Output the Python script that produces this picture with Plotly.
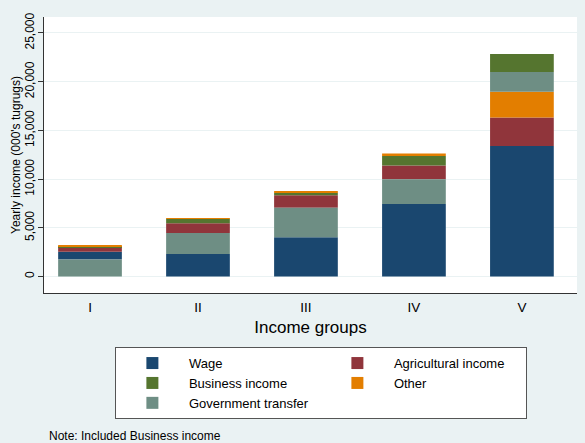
import plotly.graph_objects as go

groups = ["I", "II", "III", "IV", "V"]
series_names = ["Wage", "Agricultural income", "Business income", "Other", "Government transfer"]
wage = [790, 2315, 4030, 7440, 13410]
agricultural = [480, 1000, 1300, 1410, 2920]
business = [100, 445, 240, 990, 1850]
other = [70, 40, 180, 240, 2630]
government = [1760, 2160, 3020, 2540, 2030]
colors = ["#1a476f", "#90353b", "#55752f", "#e37e00", "#6e8e84"]
y_ticks = [0, 5000, 10000, 15000, 20000, 25000]

values = [wage, agricultural, business, other, government]

# Within each bar, components are stacked largest at the bottom
bases = [[0] * len(groups) for _ in values]
for g in range(len(groups)):
    order = sorted(range(len(values)), key=lambda s: -values[s][g])
    acc = 0
    for s in order:
        bases[s][g] = acc
        acc += values[s][g]

BG = "#eaf2f3"
FONT = "Liberation Sans, Arial, Helvetica, sans-serif"

fig = go.Figure()
for name, vals, base, col in zip(series_names, values, bases, colors):
    fig.add_trace(go.Bar(
        x=groups, y=vals, base=base, name=name,
        marker=dict(color=col, line=dict(width=0)),
        width=0.59,
    ))

fig.update_layout(
    width=585, height=443,
    barmode="overlay",
    paper_bgcolor=BG, plot_bgcolor="white",
    margin=dict(l=44, r=8, t=17, b=150, autoexpand=False),
    font=dict(family=FONT, size=12, color="#000000"),
    showlegend=True,
    legend=dict(
        orientation="h", x=0.133, xanchor="left", y=-0.196, yanchor="top",
        bgcolor="white", bordercolor="#555555", borderwidth=1,
        entrywidth=127, font=dict(size=13), traceorder="normal",
        itemwidth=63,
    ),
    xaxis=dict(
        range=[-0.426, 4.51], showgrid=False, showline=True, linecolor="#333333",
        linewidth=1, ticks="", tickfont=dict(size=13.5), ticklabelstandoff=2,
        title=dict(text="Income groups", font=dict(size=17), standoff=6),
        mirror=False, automargin=False,
    ),
    yaxis=dict(
        range=[-1690, 26640], tickvals=y_ticks, tickformat=",", tickangle=-90,
        showgrid=True, gridcolor=BG, gridwidth=1, zeroline=False,
        showline=True, linecolor="#333333", linewidth=1,
        ticks="outside", ticklen=5, tickcolor="#333333", tickfont=dict(size=12),
        ticklabelstandoff=-1,
        title=dict(text="Yearly income (000's tugrugs)", font=dict(size=12), standoff=0),
        automargin=False,
    ),
    annotations=[dict(
        text="Note: Included Business income", xref="paper", yref="paper",
        x=(47 - 44) / 533, y=(293 - 436) / 276, xanchor="left", yanchor="middle",
        showarrow=False, font=dict(size=12),
    )],
)

fig.write_html(
    "out.html",
    config={"displayModeBar": False},
    post_script="document.body.style.margin='0';document.body.style.padding='0';",
)
